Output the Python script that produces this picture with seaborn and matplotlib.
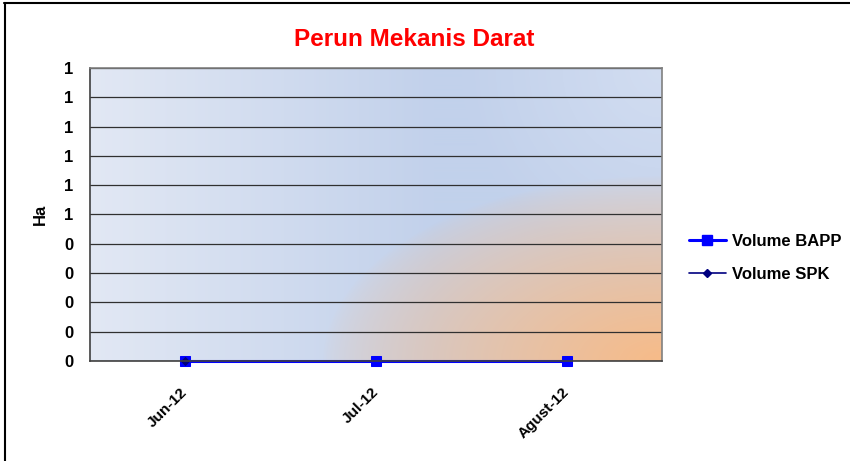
import numpy as np
import pandas as pd
import matplotlib
matplotlib.use('Agg')
import matplotlib.pyplot as plt
import seaborn as sns
from matplotlib.colors import to_rgb
from matplotlib.lines import Line2D

months = ['Jun-12', 'Jul-12', 'Agust-12']
volume_bapp = [0, 0, 0]
volume_spk = [0, np.nan, np.nan]
y_ticks = [0.0, 0.1, 0.2, 0.3, 0.4, 0.5, 0.6, 0.7, 0.8, 0.9, 1.0]
y_tick_labels = ['0', '0', '0', '0', '0', '1', '1', '1', '1', '1', '1']

sns.set_style('white')
plt.rcParams['font.family'] = ['Liberation Sans', 'DejaVu Sans']
plt.rcParams.update({'text.color': 'black', 'xtick.color': 'black',
                     'ytick.color': 'black', 'axes.labelcolor': 'black'})

df = pd.DataFrame({'Bulan': months, 'Volume BAPP': volume_bapp, 'Volume SPK': volume_spk})

fig = plt.figure(figsize=(8.5, 4.61), dpi=100)
ax = fig.add_axes([90 / 850, 100 / 461, 572 / 850, 293 / 461])

# plot area fill: light blue with an orange glow in the lower right
h, w = 293, 572
yy, xx = np.mgrid[0:h, 0:w]
light = np.array(to_rgb('#e2e8f4'))
blue = np.array(to_rgb('#c2d1eb'))
top_right = np.array(to_rgb('#d2ddf1'))
orange = np.array(to_rgb('#f7bb88'))
t = np.clip(xx / (w * 0.6), 0, 1)[..., None]
base = light * (1 - t) + blue * t
r = np.clip(1 - np.sqrt(((w - xx) / 200.0) ** 2 + (yy / 200.0) ** 2), 0, 1)[..., None]
base = base * (1 - r) + top_right * r
d = np.sqrt(((w - xx) / 340.0) ** 2 + ((h - yy) / 185.0) ** 2)
g = np.clip(1 - d, 0, 1)[..., None] ** 0.7
img = base * (1 - g) + orange * g
ax.imshow(img, extent=[-0.5, 2.5, 0, 1], aspect='auto', zorder=0, origin='upper')

for yv in y_ticks:
    ax.axhline(yv, color='#303030', lw=0.9, zorder=1)

sns.lineplot(data=df, x='Bulan', y='Volume BAPP', color='#0000ff', lw=2.2, marker='s',
             markersize=7, markeredgecolor='#0000ff', ax=ax, zorder=3, clip_on=False)
sns.lineplot(data=df, x='Bulan', y='Volume SPK', color='#000080', lw=1.2, marker='D',
             markersize=4.5, markeredgecolor='#000080', ax=ax, zorder=4, clip_on=False)

ax.set_xlim(-0.5, 2.5)
ax.set_ylim(0, 1)
ax.set_yticks(y_ticks)
ax.set_yticklabels(y_tick_labels, fontsize=12, fontweight='bold')
ax.set_xticks(range(len(months)))
ax.set_xticklabels(months, fontsize=11, fontweight='bold', rotation=45, ha='right',
                   rotation_mode='anchor', va='center')
ax.tick_params(axis='y', length=0, pad=12)
ax.tick_params(axis='x', length=0, pad=21)
ax.set_xlabel('')
ax.set_ylabel('Ha', fontsize=12, fontweight='bold', labelpad=12)
for sp in ax.spines.values():
    sp.set_color('#808080')
    sp.set_linewidth(1.2)
    sp.set_zorder(5)
ax.spines['left'].set_color('#404040')
ax.spines['bottom'].set_color('#404040')

fig.text(414 / 850, 1 - 40 / 461, 'Perun Mekanis Darat', color='#ff0000', fontsize=17.5,
         fontweight='bold', ha='center', va='center')

handles = [Line2D([], [], color='#0000ff', lw=2.2, marker='s', markersize=7),
           Line2D([], [], color='#000080', lw=1.2, marker='D', markersize=4.5)]
leg = fig.legend(handles, ['Volume BAPP', 'Volume SPK'], loc='center left',
                 bbox_to_anchor=(689 / 850, 1 - 258 / 461), frameon=False,
                 prop={'size': 12, 'weight': 'bold'}, handlelength=2.2,
                 handletextpad=0.4, labelspacing=1.05, borderpad=0, borderaxespad=0)

# chart border (top and left edges)
fig.add_artist(Line2D([4 / 850, 1], [1 - 3 / 461, 1 - 3 / 461], color='black', lw=1.5,
                      transform=fig.transFigure))
fig.add_artist(Line2D([5 / 850, 5 / 850], [0, 1 - 3 / 461], color='black', lw=1.5,
                      transform=fig.transFigure))

fig.savefig('out.png', dpi=100)
